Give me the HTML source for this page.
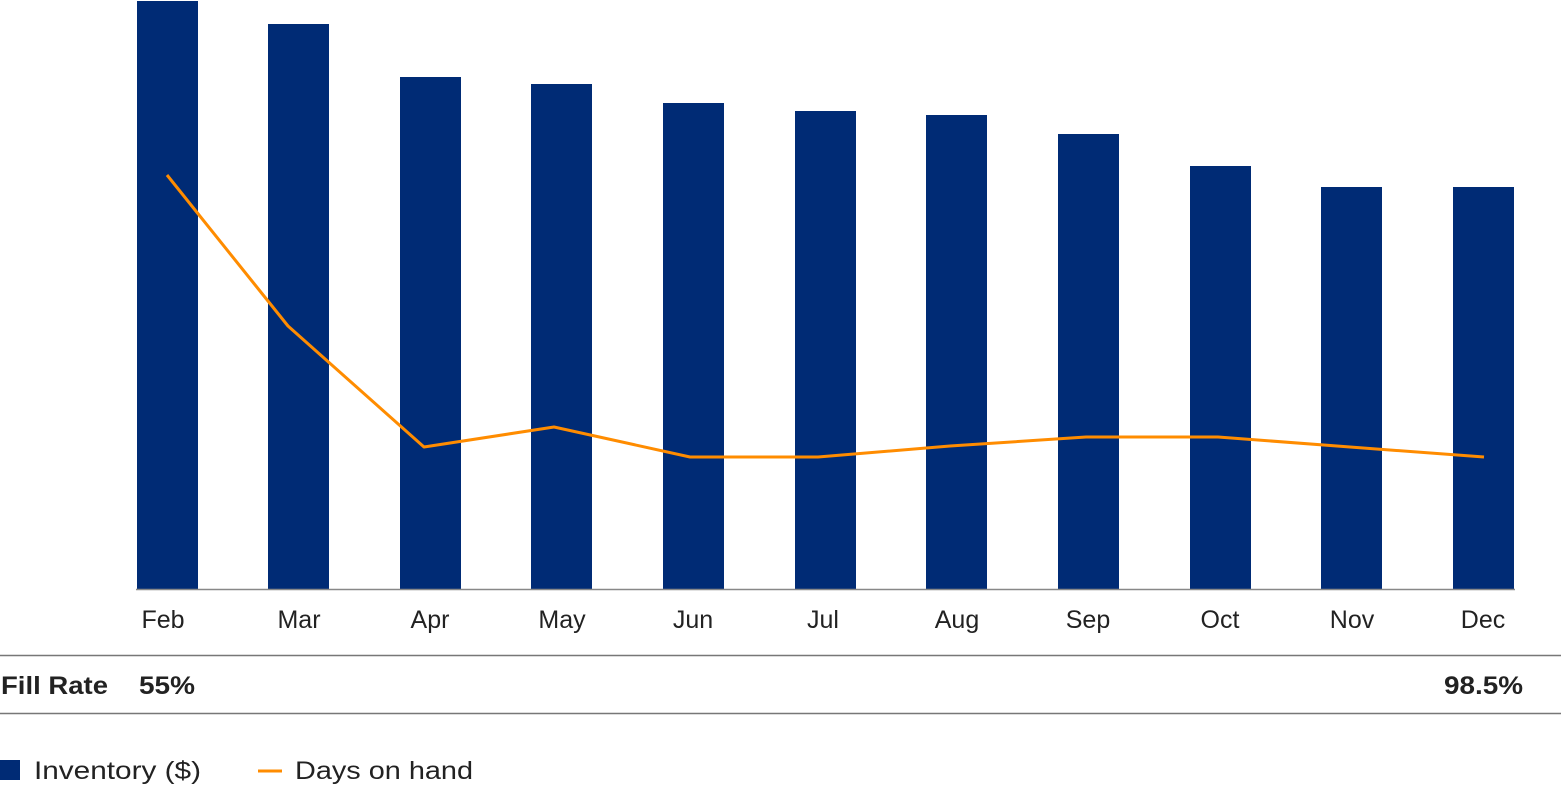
<!DOCTYPE html>
<html><head><meta charset="utf-8"><style>
html,body{margin:0;padding:0;background:#fff;}
body{width:1561px;height:792px;overflow:hidden;}
svg text{font-family:"Liberation Sans",sans-serif;fill:#222;}
</style></head><body>
<svg width="1561" height="792" viewBox="0 0 1561 792" xmlns="http://www.w3.org/2000/svg">
<g fill="#002b75">
<rect x="137" y="1" width="61" height="588"/>
<rect x="268" y="24" width="61" height="565"/>
<rect x="400" y="77" width="61" height="512"/>
<rect x="531" y="84" width="61" height="505"/>
<rect x="663" y="103" width="61" height="486"/>
<rect x="795" y="111" width="61" height="478"/>
<rect x="926" y="115" width="61" height="474"/>
<rect x="1058" y="134" width="61" height="455"/>
<rect x="1190" y="166" width="61" height="423"/>
<rect x="1321" y="187" width="61" height="402"/>
<rect x="1453" y="187" width="61" height="402"/>
</g>
<line x1="136" y1="589.5" x2="1515" y2="589.5" stroke="#888" stroke-width="1.5"/>
<polyline fill="none" stroke="#ff8c00" stroke-width="3" stroke-linejoin="round" points="167,175 288,326 424,447 554,427 690,457 818,457 950,446 1086,437 1218,437 1350,447 1484,457"/>
<g font-size="25" text-anchor="middle">
<text x="163" y="628">Feb</text><text x="299" y="628">Mar</text><text x="430" y="628">Apr</text>
<text x="562" y="628">May</text><text x="693" y="628">Jun</text><text x="823" y="628">Jul</text>
<text x="957" y="628">Aug</text><text x="1088" y="628">Sep</text><text x="1220" y="628">Oct</text>
<text x="1352" y="628">Nov</text><text x="1483" y="628">Dec</text>
</g>
<line x1="0" y1="655.5" x2="1561" y2="655.5" stroke="#777" stroke-width="1.5"/>
<line x1="0" y1="713.5" x2="1561" y2="713.5" stroke="#777" stroke-width="1.5"/>
<g font-size="25" font-weight="bold">
<text x="1" y="694" textLength="107" lengthAdjust="spacingAndGlyphs">Fill Rate</text>
<text x="139" y="694" textLength="56" lengthAdjust="spacingAndGlyphs">55%</text>
<text x="1444" y="694" textLength="79" lengthAdjust="spacingAndGlyphs">98.5%</text>
</g>
<rect x="0" y="760" width="20" height="20" fill="#002b75"/>
<text x="34" y="779" font-size="25" textLength="167" lengthAdjust="spacingAndGlyphs">Inventory ($)</text>
<line x1="258" y1="771" x2="282" y2="771" stroke="#ff8c00" stroke-width="3"/>
<text x="295" y="779" font-size="25" textLength="178" lengthAdjust="spacingAndGlyphs">Days on hand</text>
</svg>
</body></html>
